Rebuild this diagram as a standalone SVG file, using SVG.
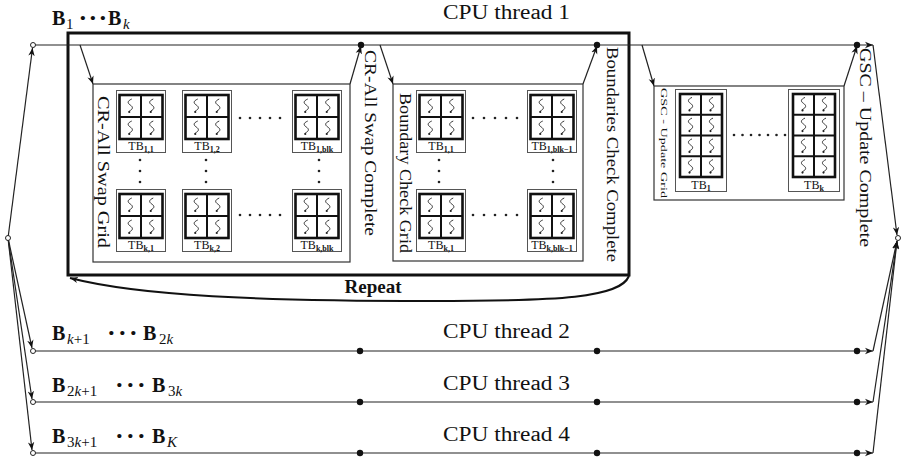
<svg xmlns="http://www.w3.org/2000/svg" xmlns:xlink="http://www.w3.org/1999/xlink" width="901" height="461" viewBox="0 0 901 461">
<style>
.ln{stroke:#222;stroke-width:1.2;fill:none}
.box{fill:#fff;stroke:#333;stroke-width:1.2}
.big{fill:none;stroke:#111;stroke-width:3}
.t{font-family:"Liberation Serif","Times New Roman",serif;fill:#111}
.lbl{font-size:20px}
.b{font-weight:bold}
.cd{font-weight:bold;font-size:26px}
.sub{font-size:15px}
.i{font-style:italic}
.rot{font-size:16px}
.tb{font-family:"Liberation Serif","Times New Roman",serif;font-size:12px;fill:#111;text-anchor:middle}
.tbs{font-size:8px;font-weight:bold}
.dot{fill:#111}
.oc{fill:#fff;stroke:#222;stroke-width:1}
.ell{fill:#222}
</style>
<defs>
<marker id="ah" viewBox="0 0 10 10" refX="10" refY="5" markerWidth="8" markerHeight="8" markerUnits="userSpaceOnUse" orient="auto"><path d="M0,1 L10,5 L0,9 L3,5 z" fill="#111"/></marker>
<g id="sq"><path d="M1.5,-7 C-3,-5 -3,-3 0,-1 C3,1 3,3 -1,5 L-1,6" fill="none" stroke="#222" stroke-width="0.9"/><circle cx="-1" cy="6" r="1.1" fill="#222"/></g>
<g id="tb4">
<rect x="0.5" y="0.5" width="49" height="62" fill="#fff" stroke="#555" stroke-width="1"/>
<rect x="3.5" y="5" width="43" height="44" fill="#fff" stroke="#111" stroke-width="2.6"/>
<path d="M25,5 V49 M3.5,27 H46.5" stroke="#111" stroke-width="2"/>
<use href="#sq" x="14.25" y="16"/><use href="#sq" x="35.75" y="16"/>
<use href="#sq" x="14.25" y="38"/><use href="#sq" x="35.75" y="38"/>
</g>
<g id="tb8">
<rect x="0.5" y="0.5" width="51" height="102" fill="#fff" stroke="#555" stroke-width="1"/>
<rect x="5" y="5" width="42" height="83" fill="#fff" stroke="#111" stroke-width="2.6"/>
<path d="M26,5 V88 M5,25.75 H47 M5,46.5 H47 M5,67.25 H47" stroke="#111" stroke-width="2"/>
<use href="#sq" x="15.5" y="15.4"/><use href="#sq" x="36.5" y="15.4"/>
<use href="#sq" x="15.5" y="36.1"/><use href="#sq" x="36.5" y="36.1"/>
<use href="#sq" x="15.5" y="56.9"/><use href="#sq" x="36.5" y="56.9"/>
<use href="#sq" x="15.5" y="77.6"/><use href="#sq" x="36.5" y="77.6"/>
</g>
</defs>
<rect width="901" height="461" fill="#fff"/>

<g id="thread1-repeat-box">
<rect class="big" x="68" y="33" width="561" height="242"/>
<path d="M629,276 C620,298 560,301 430,301 C260,301 140,296 70,278" fill="none" stroke="#111" stroke-width="2" marker-end="url(#ah)"/>
<text class="t b" x="373" y="293" font-size="19" text-anchor="middle">Repeat</text>
</g>

<g id="connectors">
<path class="ln" d="M33,45 H873" marker-end="url(#ah)"/>
<path class="ln" d="M33,351 H873" marker-end="url(#ah)"/>
<path class="ln" d="M33,402 H873" marker-end="url(#ah)"/>
<path class="ln" d="M33,453 H873" marker-end="url(#ah)"/>
<path class="ln" d="M8,238 L32.5,48" marker-end="url(#ah)"/>
<path class="ln" d="M8,238 L32,348" marker-end="url(#ah)"/>
<path class="ln" d="M8,238 L32,399" marker-end="url(#ah)"/>
<path class="ln" d="M8,238 L32,450" marker-end="url(#ah)"/>
<path class="ln" d="M873,45 L897,235" marker-end="url(#ah)"/>
<path class="ln" d="M873,351 L897,241" marker-end="url(#ah)"/>
<path class="ln" d="M873,402 L897,241" marker-end="url(#ah)"/>
<path class="ln" d="M873,453 L897,241" marker-end="url(#ah)"/>
<path class="ln" d="M80,45 L93,84" marker-end="url(#ah)"/>
<path class="ln" d="M350,84 L361,46" marker-end="url(#ah)"/>
<path class="ln" d="M380,45 L393,84" marker-end="url(#ah)"/>
<path class="ln" d="M583,84 L597,46" marker-end="url(#ah)"/>
<path class="ln" d="M642,45 L654,86" marker-end="url(#ah)"/>
<path class="ln" d="M844,86 L857,46" marker-end="url(#ah)"/>
<circle class="oc" cx="33" cy="45" r="2.5"/>
<circle class="oc" cx="33" cy="351" r="2.5"/>
<circle class="oc" cx="33" cy="402" r="2.5"/>
<circle class="oc" cx="33" cy="453" r="2.5"/>
<circle class="oc" cx="8" cy="238" r="2.5"/>
<circle class="oc" cx="898" cy="238" r="2.5"/>
<circle class="dot" cx="361" cy="45" r="3.2"/><circle class="dot" cx="597" cy="45" r="3.2"/><circle class="dot" cx="857" cy="45" r="3.2"/>
<circle class="dot" cx="360" cy="351" r="3.2"/><circle class="dot" cx="597" cy="351" r="3.2"/><circle class="dot" cx="857" cy="351" r="3.2"/>
<circle class="dot" cx="360" cy="402" r="3.2"/><circle class="dot" cx="597" cy="402" r="3.2"/><circle class="dot" cx="857" cy="402" r="3.2"/>
<circle class="dot" cx="360" cy="453" r="3.2"/><circle class="dot" cx="597" cy="453" r="3.2"/><circle class="dot" cx="857" cy="453" r="3.2"/>
<text class="t rot" transform="translate(365,50) rotate(90)" textLength="186" lengthAdjust="spacingAndGlyphs">CR-All Swap Complete</text>
<text class="t rot" transform="translate(607,47) rotate(90)" textLength="215" lengthAdjust="spacingAndGlyphs">Boundaries Check Complete</text>
<text class="t rot" transform="translate(860,48) rotate(90)" textLength="199" lengthAdjust="spacingAndGlyphs">GSC – Update Complete</text>
</g>

<g id="thread-labels">
<text class="t lbl" x="0" y="25"><tspan class="b" x="52">B</tspan><tspan class="sub" x="66" y="29">1</tspan><tspan class="cd" x="78.5" y="26">·</tspan><tspan class="cd" x="88.5">·</tspan><tspan class="cd" x="98.5">·</tspan><tspan class="b" x="108" y="25">B</tspan><tspan class="sub i" x="123" y="29">k</tspan></text>
<text class="t lbl" x="443" y="19" textLength="127" lengthAdjust="spacingAndGlyphs">CPU thread 1</text>
<text class="t lbl" x="0" y="340"><tspan class="b" x="52">B</tspan><tspan class="sub" x="67" y="344"><tspan class="i">k</tspan>+1</tspan><tspan class="cd" x="107" y="341">·</tspan><tspan class="cd" x="118">·</tspan><tspan class="cd" x="129">·</tspan><tspan class="b" x="143" y="340">B</tspan><tspan class="sub" x="159" y="344">2<tspan class="i">k</tspan></tspan></text>
<text class="t lbl" x="443" y="338" textLength="127" lengthAdjust="spacingAndGlyphs">CPU thread 2</text>
<text class="t lbl" x="0" y="392"><tspan class="b" x="52">B</tspan><tspan class="sub" x="67" y="396">2<tspan class="i">k</tspan>+1</tspan><tspan class="cd" x="115" y="393">·</tspan><tspan class="cd" x="126">·</tspan><tspan class="cd" x="137">·</tspan><tspan class="b" x="152" y="392">B</tspan><tspan class="sub" x="168" y="396">3<tspan class="i">k</tspan></tspan></text>
<text class="t lbl" x="443" y="390" textLength="127" lengthAdjust="spacingAndGlyphs">CPU thread 3</text>
<text class="t lbl" x="0" y="443"><tspan class="b" x="52">B</tspan><tspan class="sub" x="67" y="447">3<tspan class="i">k</tspan>+1</tspan><tspan class="cd" x="115" y="444">·</tspan><tspan class="cd" x="126">·</tspan><tspan class="cd" x="137">·</tspan><tspan class="b" x="152" y="443">B</tspan><tspan class="sub i" x="167" y="447">K</tspan></text>
<text class="t lbl" x="443" y="441" textLength="127" lengthAdjust="spacingAndGlyphs">CPU thread 4</text>
</g>

<g id="cr-all-swap-grid">
<rect class="box" x="93" y="84" width="257" height="178"/>
<text class="t rot" transform="translate(98,96) rotate(90)" textLength="152" lengthAdjust="spacingAndGlyphs">CR-All Swap Grid</text>
<use href="#tb4" x="116" y="90"/><text class="tb" x="141" y="150">TB<tspan class="tbs" dy="2">1,1</tspan></text>
<use href="#tb4" x="182" y="90"/><text class="tb" x="207" y="150">TB<tspan class="tbs" dy="2">1,2</tspan></text>
<use href="#tb4" x="292" y="90"/><text class="tb" x="317" y="150">TB<tspan class="tbs" dy="2">1,blk</tspan></text>
<use href="#tb4" x="116" y="189"/><text class="tb" x="141" y="249">TB<tspan class="tbs" dy="2">k,1</tspan></text>
<use href="#tb4" x="182" y="189"/><text class="tb" x="207" y="249">TB<tspan class="tbs" dy="2">k,2</tspan></text>
<use href="#tb4" x="292" y="189"/><text class="tb" x="317" y="249">TB<tspan class="tbs" dy="2">k,blk</tspan></text>
<g class="ell">
<circle cx="240" cy="118" r="1.3"/><circle cx="250" cy="118" r="1.3"/><circle cx="260" cy="118" r="1.3"/><circle cx="270" cy="118" r="1.3"/><circle cx="280" cy="118" r="1.3"/>
<circle cx="240" cy="215" r="1.3"/><circle cx="250" cy="215" r="1.3"/><circle cx="260" cy="215" r="1.3"/><circle cx="270" cy="215" r="1.3"/><circle cx="280" cy="215" r="1.3"/>
<circle cx="140" cy="160" r="1.3"/><circle cx="140" cy="171" r="1.3"/><circle cx="140" cy="182" r="1.3"/>
<circle cx="206" cy="160" r="1.3"/><circle cx="206" cy="171" r="1.3"/><circle cx="206" cy="182" r="1.3"/>
<circle cx="319" cy="160" r="1.3"/><circle cx="319" cy="171" r="1.3"/><circle cx="319" cy="182" r="1.3"/>
</g>
</g>

<g id="boundary-check-grid">
<rect class="box" x="393" y="84" width="190" height="177"/>
<text class="t rot" transform="translate(400,93) rotate(90)" textLength="160" lengthAdjust="spacingAndGlyphs">Boundary Check Grid</text>
<use href="#tb4" x="416" y="90"/><text class="tb" x="441" y="150">TB<tspan class="tbs" dy="2">1,1</tspan></text>
<use href="#tb4" x="527" y="90"/><text class="tb" x="552" y="150" font-size="10">TB<tspan class="tbs" dy="2" font-size="7">1,blk−1</tspan></text>
<use href="#tb4" x="416" y="189"/><text class="tb" x="441" y="249">TB<tspan class="tbs" dy="2">k,1</tspan></text>
<use href="#tb4" x="527" y="189"/><text class="tb" x="552" y="249" font-size="10">TB<tspan class="tbs" dy="2" font-size="7">k,blk−1</tspan></text>
<g class="ell">
<circle cx="473" cy="118" r="1.3"/><circle cx="484" cy="118" r="1.3"/><circle cx="495" cy="118" r="1.3"/><circle cx="506" cy="118" r="1.3"/><circle cx="517" cy="118" r="1.3"/>
<circle cx="473" cy="215" r="1.3"/><circle cx="484" cy="215" r="1.3"/><circle cx="495" cy="215" r="1.3"/><circle cx="506" cy="215" r="1.3"/><circle cx="517" cy="215" r="1.3"/>
<circle cx="439" cy="160" r="1.3"/><circle cx="439" cy="171" r="1.3"/><circle cx="439" cy="182" r="1.3"/>
<circle cx="553" cy="160" r="1.3"/><circle cx="553" cy="171" r="1.3"/><circle cx="553" cy="182" r="1.3"/>
</g>
</g>

<g id="gsc-update-grid">
<rect class="box" x="654" y="86" width="190" height="114"/>
<text class="t" font-size="9" transform="translate(661,88) rotate(90)" textLength="110" lengthAdjust="spacingAndGlyphs">GSC - Update Grid</text>
<use href="#tb8" x="675" y="89"/><text class="tb" x="701" y="189">TB<tspan class="tbs" dy="2">1</tspan></text>
<use href="#tb8" x="788" y="89"/><text class="tb" x="814" y="189">TB<tspan class="tbs" dy="2">k</tspan></text>
<g class="ell">
<circle cx="734" cy="135" r="1.3"/><circle cx="742.5" cy="135" r="1.3"/><circle cx="751" cy="135" r="1.3"/><circle cx="759.5" cy="135" r="1.3"/><circle cx="768" cy="135" r="1.3"/><circle cx="776.5" cy="135" r="1.3"/><circle cx="785" cy="135" r="1.3"/>
</g>
</g>
</svg>
